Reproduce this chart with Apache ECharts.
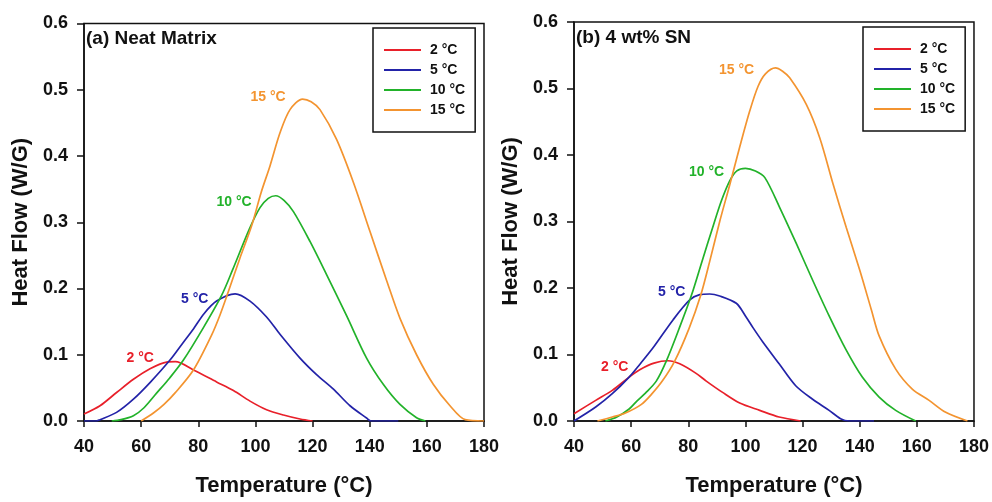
<!DOCTYPE html>
<html>
<head>
<meta charset="utf-8">
<script src="https://cdn.jsdelivr.net/npm/echarts@6/dist/echarts.min.js"></script>
<style>
  html, body { margin: 0; padding: 0; background: #fff; }
  #chart { width: 992px; height: 502px; }
</style>
</head>
<body>
<div id="chart"></div>
<script>
// DSC crystallization exotherms: heat flow vs temperature at four cooling rates
const rateNames = ['2 °C', '5 °C', '10 °C', '15 °C'];
const rateColors = ['#e8202a', '#2323a8', '#22b22a', '#f39430'];
const panelTitles = ['(a) Neat Matrix', '(b) 4 wt% SN'];
const xTicks = { min: 40, max: 180, step: 20 };
const yTicks = { min: 0, max: 0.6, step: 0.1 };

// (a) Neat matrix — [temperature °C, heat flow W/g]
const neat2 = [[40,0.0105],[45.6,0.023],[51.4,0.043],[57.3,0.063],[63.1,0.079],[68.9,0.089],[72,0.0895],[78.3,0.077],[86.4,0.059],[92.3,0.046],[98.1,0.03],[103.9,0.017],[109.8,0.009],[115.6,0.003],[120,0]];
const neat5 = [[40,0],[44.4,0],[45.6,0.002],[51.4,0.013],[57.3,0.033],[63.1,0.058],[70.1,0.092],[74.8,0.119],[78.3,0.139],[82,0.162],[86.4,0.181],[92.9,0.192],[98.1,0.181],[103.9,0.157],[108.6,0.131],[115.6,0.095],[121.4,0.07],[127.3,0.048],[133.1,0.023],[138.9,0.0045],[140.5,0],[150,0]];
const neat10 = [[49.7,0],[53,0.002],[57.3,0.008],[61,0.02],[65.4,0.042],[70,0.065],[74.8,0.092],[81.8,0.141],[88.2,0.19],[92,0.228],[97.9,0.29],[101.6,0.322],[104.5,0.336],[107.1,0.34],[110,0.333],[113.3,0.316],[119.1,0.271],[124.9,0.221],[131.9,0.159],[138.9,0.095],[144.8,0.055],[150.6,0.025],[156.4,0.005],[159.5,0]];
const neat15 = [[60,0],[64.3,0.012],[68,0.025],[71.8,0.042],[78.3,0.077],[84.7,0.13],[87.6,0.16],[90.5,0.195],[94.5,0.245],[98.7,0.295],[102,0.345],[105.1,0.385],[108.6,0.435],[112.1,0.47],[116.5,0.486],[119.5,0.482],[122.6,0.47],[128.4,0.425],[134.3,0.36],[140.1,0.286],[146,0.211],[150.6,0.155],[156.4,0.1],[162.3,0.055],[168.1,0.023],[173.4,0.002],[180,0]];

// (b) 4 wt% SN
const sn2 = [[40,0.011],[47.6,0.031],[53.4,0.046],[59.3,0.066],[63,0.077],[68,0.087],[72.9,0.0906],[77,0.086],[82.6,0.072],[86.3,0.06],[92,0.043],[98,0.027],[105,0.016],[111.8,0.006],[119.3,0]];
const sn5 = [[40,0],[47.6,0.021],[53.4,0.041],[59.3,0.066],[63,0.085],[68,0.112],[74.65,0.152],[80.5,0.182],[84,0.19],[87.5,0.191],[91,0.188],[96.8,0.177],[100,0.158],[102.7,0.14],[105.9,0.12],[111.8,0.086],[117.6,0.053],[123.4,0.033],[129.3,0.016],[133.3,0.0035],[136.3,0],[145,0]];
const sn10 = [[51,0],[55,0.006],[59.3,0.018],[62,0.03],[65,0.042],[68.8,0.06],[72.3,0.09],[76.8,0.139],[81.1,0.189],[84.8,0.24],[88.4,0.289],[91.5,0.33],[94.5,0.361],[97,0.376],[100,0.38],[103.5,0.376],[106.8,0.366],[112,0.321],[117.8,0.267],[123.5,0.212],[129.3,0.158],[135.1,0.108],[140.9,0.066],[146.8,0.036],[152.6,0.016],[159.6,0]];
const sn15 = [[48.2,0],[53.4,0.006],[58,0.012],[63.6,0.025],[67.1,0.04],[70.9,0.06],[75.2,0.0897],[80.25,0.139],[84.35,0.189],[87.5,0.24],[91,0.3],[94.5,0.355],[98,0.412],[101.5,0.466],[104.4,0.503],[107,0.522],[110.5,0.531],[113,0.526],[115.5,0.516],[121.3,0.476],[126,0.426],[130.7,0.356],[135.3,0.291],[140,0.227],[144.1,0.167],[146.8,0.128],[152.6,0.078],[158.4,0.048],[164.3,0.031],[170.1,0.013],[177.7,0]];

const panels = [[neat2, neat5, neat10, neat15], [sn2, sn5, sn10, sn15]];

const FONT = '"Liberation Sans", Arial, Helvetica, sans-serif';
const INK = '#111';

const grids = [
  { left: 84, top: 23.5, width: 400, height: 401 },
  { left: 574, top: 22, width: 400, height: 401 }
];

function xAxisFor(i) {
  return {
    gridIndex: i, type: 'value', min: xTicks.min, max: xTicks.max, interval: xTicks.step,
    name: 'Temperature (°C)', nameLocation: 'middle', nameGap: 54,
    nameTextStyle: { fontFamily: FONT, fontWeight: 'bold', fontSize: 22, color: INK },
    axisLine: { lineStyle: { color: INK, width: 1.5 } },
    axisTick: { inside: false, length: 6, lineStyle: { color: INK, width: 1.5 } },
    axisLabel: { fontFamily: FONT, fontWeight: 'bold', fontSize: 18, color: INK, margin: 17 },
    splitLine: { show: false }
  };
}
function yAxisFor(i) {
  return {
    gridIndex: i, type: 'value', min: yTicks.min, max: yTicks.max, interval: yTicks.step,
    name: 'Heat Flow (W/G)', nameLocation: 'middle', nameGap: 52, nameRotate: 90,
    nameTextStyle: { fontFamily: FONT, fontWeight: 'bold', fontSize: 22, color: INK },
    axisLine: { lineStyle: { color: INK, width: 1.5 } },
    axisTick: { inside: false, length: 7, lineStyle: { color: INK, width: 1.5 } },
    axisLabel: { fontFamily: FONT, fontWeight: 'bold', fontSize: 18, color: INK, margin: 16,
      formatter: v => v.toFixed(1) },
    splitLine: { show: false }
  };
}

const series = [];
panels.forEach((sets, p) => {
  sets.forEach((data, k) => {
    series.push({
      type: 'line', name: rateNames[k], xAxisIndex: p, yAxisIndex: p,
      data: data, symbol: 'none', smooth: 0.3,
      lineStyle: { color: rateColors[k], width: 1.7 },
      itemStyle: { color: rateColors[k] },
      z: 3 + k, animation: false
    });
  });
});

function legendFor(left, top) {
  return {
    data: rateNames, orient: 'vertical', left: left, top: top,
    borderColor: INK, borderWidth: 1.5, padding: [15, 10, 15, 11],
    icon: 'rect', itemGap: 6, itemWidth: 37, itemHeight: 2,
    selectedMode: false,
    textStyle: { fontFamily: FONT, fontWeight: 'bold', fontSize: 14, lineHeight: 14, color: INK, padding: [0, 0, 0, 4] }
  };
}

// curve annotations: [panel, rate index, x, y]
const curveTags = [
  [0, 3, 250.5, 97.5], [0, 2, 216.5, 202], [0, 1, 181, 299], [0, 0, 126.5, 358],
  [1, 3, 719, 70], [1, 2, 689, 172.5], [1, 1, 658, 292.5], [1, 0, 601, 367]
];

const chart = echarts.init(document.getElementById('chart'), null, { renderer: 'canvas' });
chart.setOption({
  backgroundColor: '#fff',
  animation: false,
  title: [
    { text: panelTitles[0], left: 86, top: 29, padding: 0,
      textStyle: { fontFamily: FONT, fontWeight: 'bold', fontSize: 19, color: INK } },
    { text: panelTitles[1], left: 576, top: 28, padding: 0,
      textStyle: { fontFamily: FONT, fontWeight: 'bold', fontSize: 19, color: INK } }
  ],
  grid: grids.map(g => Object.assign({ show: true, borderColor: INK, borderWidth: 1.5, backgroundColor: 'transparent' }, g)),
  xAxis: [xAxisFor(0), xAxisFor(1)],
  yAxis: [yAxisFor(0), yAxisFor(1)],
  legend: [legendFor(373, 28), legendFor(863, 27)],
  series: series,
  graphic: curveTags.map(t => ({
    type: 'text', x: t[2], y: t[3], z: 10,
    style: { text: rateNames[t[1]], fill: rateColors[t[1]], font: 'bold 14px ' + FONT, verticalAlign: 'middle' }
  }))
});
</script>
</body>
</html>
